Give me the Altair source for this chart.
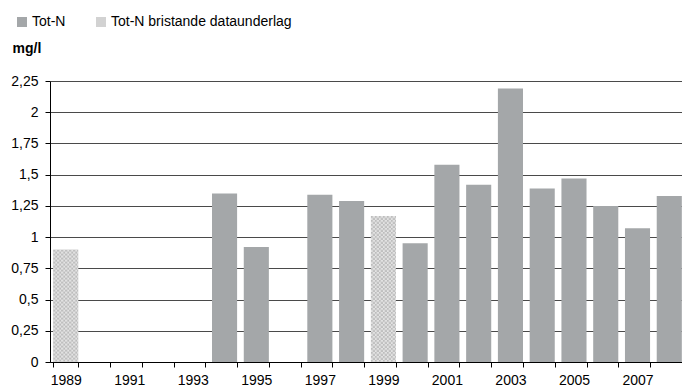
import base64
import altair as alt
import pandas as pd

# Annual mean total nitrogen (mg/l); flagged years have too little underlying data
years = list(range(1989, 2009))
tot_n = [0.90, None, None, None, None, 1.35, 0.92, None, 1.34, 1.29,
         1.17, 0.95, 1.58, 1.42, 2.19, 1.39, 1.47, 1.25, 1.07, 1.33]
weak_data_years = [1989, 1999]

series_names = ["Tot-N", "Tot-N bristande dataunderlag"]
series_colors = ["#a4a7a9", "#d2d2d2"]
y_ticks = [0, 0.25, 0.5, 0.75, 1, 1.25, 1.5, 1.75, 2, 2.25]

df = pd.DataFrame({"year": years, "value": tot_n})
df["serie"] = [series_names[1] if y in weak_data_years else series_names[0] for y in years]
df = df.dropna()
df["base"] = 0.0
weak = df[df["year"].isin(weak_data_years)]

# Fine checkerboard fill for the years with weak data, tiled at 1:1 pixel scale
checker_svg = (
    "<svg xmlns='http://www.w3.org/2000/svg' width='100%' height='100%'>"
    "<defs><pattern id='c' width='4' height='4' patternUnits='userSpaceOnUse'>"
    "<rect width='4' height='4' fill='#e4e4e4'/>"
    "<rect width='2' height='2' fill='#bcbcbc'/>"
    "<rect x='2' y='2' width='2' height='2' fill='#bcbcbc'/>"
    "</pattern></defs>"
    "<rect width='100%' height='100%' fill='url(#c)'/></svg>"
)
checker_url = "data:image/svg+xml;base64," + base64.b64encode(checker_svg.encode()).decode()

FONT = "Liberation Sans"

x_enc = alt.X(
    "year:O",
    sort=years,
    scale=alt.Scale(domain=years, range=[0, 635], paddingInner=0.21, paddingOuter=0.1),
    axis=alt.Axis(
        title=None,
        labelAngle=0,
        labelExpr="datum.value % 2 == 1 ? datum.label : ''",
        tickBand="extent",
        tickSize=5,
        labelPadding=6,
        labelFont=FONT,
        labelFontSize=14,
        labelColor="#000000",
        domainColor="#000000",
        tickColor="#000000",
        grid=False,
    ),
)

y_enc = alt.Y(
    "value:Q",
    scale=alt.Scale(domain=[0, 2.25], nice=False),
    axis=alt.Axis(
        values=y_ticks,
        labelExpr="replace(format(datum.value, '~g'), '.', ',')",
        labelFont=FONT,
        labelFontSize=14,
        labelColor="#000000",
        title="mg/l",
        titleAngle=0,
        titleAlign="left",
        titleBaseline="alphabetic",
        titleX=-38,
        titleY=-29,
        titleFontWeight="bold",
        titleFontSize=14,
        titleFont=FONT,
        titleColor="#000000",
        tickSize=5,
        labelPadding=7,
        domainColor="#000000",
        tickColor="#000000",
        grid=True,
        gridColor="#4a4a4a",
        gridWidth=1,
    ),
)

bars = alt.Chart(df).mark_bar().encode(
    x=x_enc,
    y=y_enc,
    color=alt.Color(
        "serie:N",
        scale=alt.Scale(domain=series_names, range=series_colors),
        legend=alt.Legend(
            title=None,
            orient="none",
            direction="horizontal",
            legendX=-35,
            legendY=-66,
            symbolType="square",
            symbolSize=100,
            symbolStrokeWidth=0,
            labelOffset=3,
            labelLimit=400,
            columnPadding=28,
            labelFontSize=14,
            labelFont=FONT,
            labelColor="#000000",
            padding=0,
        ),
    ),
)

checker = alt.Chart(weak).mark_image(aspect=False).encode(
    x=x_enc,
    y=y_enc,
    y2=alt.Y2("base:Q"),
    url=alt.value(checker_url),
)

chart = alt.layer(bars, checker).properties(
    width=632,
    height=281,
    background="#ffffff",
    autosize=alt.AutoSizeParams(type="none"),
    padding={"left": 50, "top": 81, "right": 0, "bottom": 27},
).configure_view(
    stroke=None,
)

chart.save("out.html", embed_options={"renderer": "svg", "actions": False})
